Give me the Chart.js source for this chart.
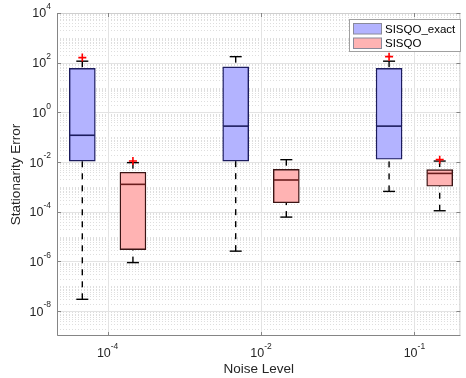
<!DOCTYPE html>
<html>
<head>
<meta charset="utf-8">
<script src="https://cdn.jsdelivr.net/npm/chart.js@4/dist/chart.umd.min.js"></script>
<style>
  html, body { margin: 0; padding: 0; background: #fff; }
  #wrap { width: 466px; height: 378px; }
</style>
</head>
<body>
<div id="wrap"><canvas id="c" width="466" height="378"></canvas></div>
<script>
// categories (noise level exponents) and their x positions
const noiseExp = [-4, -2, -1];
const groupPos = [1, 2, 3];
const yTickExp = [-8, -6, -4, -2, 0, 2, 4];

// SISQO_exact box stats
const exactLow = [3e-8, 2.6e-6, 6.6e-4];
const exactQ1 = [0.011, 0.011, 0.013];
const exactMed = [0.12, 0.28, 0.28];
const exactQ3 = [59, 68, 59];
const exactHigh = [115, 175, 115];
const exactOut = [[160], [], [175]];

// SISQO box stats
const sisqoLow = [9e-7, 6.1e-5, 1.1e-4];
const sisqoQ1 = [3e-6, 2.3e-4, 1.06e-3];
const sisqoMed = [1.27e-3, 1.9e-3, 3.5e-3];
const sisqoQ3 = [3.9e-3, 5.1e-3, 5.0e-3];
const sisqoHigh = [9.5e-3, 1.25e-2, 1.1e-2];
const sisqoOut = [[1.1e-2], [], [1.25e-2]];

const off = 0.165; // box offset from group centre, in x units

const blueFill = 'rgb(179,179,255)';
const blueEdge = '#1c1c5e';
const redFill = 'rgb(255,179,179)';
const redEdge = '#3a1414';
const redMed = '#6a1c1c';
const FONT = 'Helvetica, Arial, "Liberation Sans", sans-serif';

const boxes = [
  { label: 'SISQO_exact', dx: -off, lo: exactLow, q1: exactQ1, med: exactMed, q3: exactQ3, hi: exactHigh, fill: blueFill, edge: blueEdge, medCol: blueEdge },
  { label: 'SISQO', dx: off, lo: sisqoLow, q1: sisqoQ1, med: sisqoMed, q3: sisqoQ3, hi: sisqoHigh, fill: redFill, edge: redEdge, medCol: redMed }
];

const outPts = [];
groupPos.forEach((p, i) => {
  exactOut[i].forEach(v => outPts.push({ x: p - off, y: v }));
  sisqoOut[i].forEach(v => outPts.push({ x: p + off, y: v }));
});

const boxPlugin = {
  id: 'boxPlugin',
  beforeDatasetsDraw(chart) {
    const { ctx, chartArea: a, scales: { x, y } } = chart;
    ctx.save();
    // minor grid (dotted)
    ctx.strokeStyle = '#dedede';
    ctx.lineWidth = 1;
    ctx.setLineDash([1, 2]);
    for (let k = -9; k < 4; k++) {
      for (let m = 1; m <= 9; m++) {
        if (m === 1 && (k % 2 === 0)) continue;
        const yy = Math.round(y.getPixelForValue(m * Math.pow(10, k))) + 0.5;
        if (yy < a.top || yy > a.bottom) continue;
        ctx.beginPath(); ctx.moveTo(a.left, yy); ctx.lineTo(a.right, yy); ctx.stroke();
      }
    }
    // major grid
    ctx.setLineDash([]);
    ctx.strokeStyle = '#e3e3e3';
    yTickExp.forEach(e => {
      const yy = Math.round(y.getPixelForValue(Math.pow(10, e))) + 0.5;
      ctx.beginPath(); ctx.moveTo(a.left, yy); ctx.lineTo(a.right, yy); ctx.stroke();
    });
    groupPos.forEach(p => {
      const xx = Math.round(x.getPixelForValue(p)) + 0.5;
      ctx.beginPath(); ctx.moveTo(xx, a.top); ctx.lineTo(xx, a.bottom); ctx.stroke();
    });
    // whiskers
    ctx.strokeStyle = '#000';
    ctx.lineWidth = 1.4;
    boxes.forEach(b => {
      groupPos.forEach((p, i) => {
        const xc = x.getPixelForValue(p + b.dx);
        const yLo = y.getPixelForValue(b.lo[i]);
        const yHi = y.getPixelForValue(b.hi[i]);
        const yQ1 = y.getPixelForValue(b.q1[i]);
        const yQ3 = y.getPixelForValue(b.q3[i]);
        ctx.setLineDash([6, 6]);
        ctx.beginPath(); ctx.moveTo(xc, yLo); ctx.lineTo(xc, yQ1); ctx.stroke();
        ctx.beginPath(); ctx.moveTo(xc, yHi); ctx.lineTo(xc, yQ3); ctx.stroke();
        ctx.setLineDash([]);
        ctx.beginPath(); ctx.moveTo(xc - 6, yLo); ctx.lineTo(xc + 6, yLo); ctx.stroke();
        ctx.beginPath(); ctx.moveTo(xc - 6, yHi); ctx.lineTo(xc + 6, yHi); ctx.stroke();
      });
    });
    ctx.restore();
  },
  afterDatasetDraw(chart, args) {
    if (args.index > 1) return;
    const { ctx, scales: { x, y } } = chart;
    const b = boxes[args.index];
    ctx.save();
    ctx.strokeStyle = b.medCol;
    ctx.lineWidth = 1.6;
    groupPos.forEach((p, i) => {
      const xc = x.getPixelForValue(p + b.dx);
      const ym = y.getPixelForValue(b.med[i]);
      ctx.beginPath(); ctx.moveTo(xc - 12.5, ym); ctx.lineTo(xc + 12.5, ym); ctx.stroke();
    });
    ctx.restore();
  },
  afterDraw(chart) {
    const { ctx, chartArea: a, scales: { x, y } } = chart;
    ctx.save();
    // axes box
    ctx.lineWidth = 1;
    ctx.strokeStyle = '#cfcfcf';
    ctx.strokeRect(a.left + 0.5, a.top + 0.5, a.right - a.left - 1, a.bottom - a.top - 1);
    ctx.strokeStyle = '#858585';
    ctx.beginPath();
    ctx.moveTo(a.left + 0.5, a.top); ctx.lineTo(a.left + 0.5, a.bottom - 0.5); ctx.lineTo(a.right, a.bottom - 0.5);
    ctx.stroke();
    // tick marks
    yTickExp.forEach(e => {
      const yy = Math.round(y.getPixelForValue(Math.pow(10, e))) + 0.5;
      ctx.beginPath(); ctx.moveTo(a.left, yy); ctx.lineTo(a.left + 4, yy); ctx.stroke();
      ctx.beginPath(); ctx.moveTo(a.right, yy); ctx.lineTo(a.right - 4, yy); ctx.stroke();
    });
    groupPos.forEach(p => {
      const xx = Math.round(x.getPixelForValue(p)) + 0.5;
      ctx.beginPath(); ctx.moveTo(xx, a.bottom); ctx.lineTo(xx, a.bottom - 4); ctx.stroke();
      ctx.beginPath(); ctx.moveTo(xx, a.top); ctx.lineTo(xx, a.top + 4); ctx.stroke();
    });
    // tick labels with superscripts
    ctx.fillStyle = '#262626';
    ctx.textBaseline = 'middle';
    const base = '12.5px ' + FONT, sup = '8.5px ' + FONT;
    yTickExp.forEach(e => {
      const yy = y.getPixelForValue(Math.pow(10, e));
      ctx.font = sup; const ew = ctx.measureText(String(e)).width;
      ctx.textAlign = 'right';
      ctx.fillText(String(e), 51, yy - 6);
      ctx.font = base;
      ctx.fillText('10', 51 - ew, yy + 1);
    });
    noiseExp.forEach((e, i) => {
      const xx = x.getPixelForValue(groupPos[i]);
      ctx.font = base; const bw = ctx.measureText('10').width;
      ctx.font = sup; const ew = ctx.measureText(String(e)).width;
      const x0 = xx - (bw + ew) / 2;
      ctx.textAlign = 'left';
      ctx.font = base; ctx.fillText('10', x0, 354);
      ctx.font = sup; ctx.fillText(String(e), x0 + bw, 347);
    });
    // legend
    ctx.fillStyle = '#fff';
    ctx.fillRect(349.5, 19.5, 111, 32);
    ctx.strokeStyle = '#a0a0a0';
    ctx.strokeRect(349.5, 19.5, 111, 32);
    boxes.forEach((b, i) => {
      const ly = 23 + i * 14.5;
      ctx.fillStyle = b.fill;
      ctx.fillRect(353.5, ly + 0.5, 28, 10.5);
      ctx.strokeStyle = '#8a8a9a';
      ctx.strokeRect(353.5, ly + 0.5, 28, 10.5);
      ctx.fillStyle = '#000';
      ctx.font = '11.5px ' + FONT;
      ctx.textAlign = 'left';
      ctx.fillText(b.label, 385, ly + 6.5);
    });
    ctx.restore();
  }
};

new Chart(document.getElementById('c'), {
  data: {
    datasets: [
      ...boxes.map(b => ({
        type: 'bar',
        label: b.label,
        data: groupPos.map((p, i) => ({ x: p + b.dx, y: [b.q1[i], b.q3[i]] })),
        backgroundColor: b.fill,
        borderColor: b.edge,
        borderWidth: 1.4,
        borderSkipped: false,
        barThickness: 26,
        grouped: false,
        order: 2
      })),
      {
        type: 'scatter',
        label: 'outliers',
        data: outPts,
        pointStyle: 'cross',
        pointRadius: 4,
        borderColor: '#ff0000',
        borderWidth: 1.6,
        order: 1
      }
    ]
  },
  options: {
    responsive: false,
    animation: false,
    devicePixelRatio: 1,
    layout: { padding: { top: 13, right: 3, bottom: 0, left: 0 } },
    plugins: { legend: { display: false }, tooltip: { enabled: false } },
    scales: {
      x: {
        type: 'linear',
        offset: false,
        min: 0.67,
        max: 3.30,
        grid: { display: false, offset: false },
        border: { display: false },
        ticks: { display: false },
        title: { display: true, text: 'Noise Level', color: '#262626', font: { size: 13.5, family: FONT }, padding: { top: 0, bottom: 1 } },
        afterFit(s) { s.height = 42; }
      },
      y: {
        type: 'logarithmic',
        min: 1e-9,
        max: 1e4,
        grid: { display: false },
        border: { display: false },
        ticks: { display: false },
        title: { display: true, text: 'Stationarity Error', color: '#262626', font: { size: 13.5, family: FONT }, padding: { top: 8, bottom: 0 } },
        afterFit(s) { s.width = 57; }
      }
    }
  },
  plugins: [boxPlugin]
});
</script>
</body>
</html>
